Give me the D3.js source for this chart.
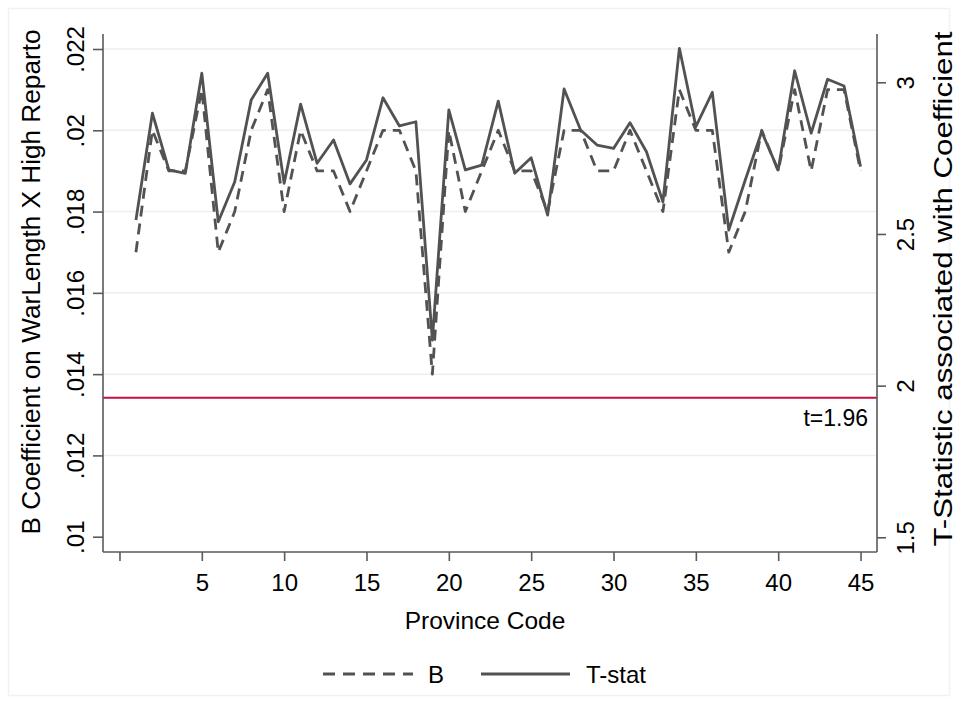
<!DOCTYPE html>
<html><head><meta charset="utf-8">
<script src="https://cdn.jsdelivr.net/npm/d3@7"></script>
<style>
html,body{margin:0;padding:0;background:#fff;}
text{font-family:"Liberation Sans",Arial,sans-serif;fill:#000;}
</style></head>
<body>
<svg id="chart" width="958" height="704"></svg>
<script>
const provinces = d3.range(1, 46);
const bCoef = [0.017,0.020,0.019,0.019,0.021,0.017,0.018,0.020,0.021,0.018,
               0.020,0.019,0.019,0.018,0.019,0.020,0.020,0.019,0.014,0.020,
               0.018,0.019,0.020,0.019,0.019,0.018,0.020,0.020,0.019,0.019,
               0.020,0.019,0.018,0.021,0.020,0.020,0.017,0.018,0.020,0.019,
               0.021,0.019,0.021,0.021,0.019];
const tStat = [2.546,2.898,2.711,2.700,3.030,2.540,2.672,2.942,3.030,2.667,
               2.928,2.733,2.810,2.665,2.744,2.949,2.856,2.870,2.150,2.909,
               2.711,2.727,2.938,2.700,2.751,2.562,2.978,2.843,2.793,2.782,
               2.867,2.771,2.606,3.112,2.854,2.967,2.513,2.678,2.837,2.711,
               3.038,2.832,3.010,2.988,2.722];
const leftTicks = [0.01,0.012,0.014,0.016,0.018,0.02,0.022];
const leftGrid = [0.012,0.014,0.016,0.018,0.02,0.022];
const rightTicks = [1.5,2,2.5,3];
const xTicks = [0,5,10,15,20,25,30,35,40,45];
const tCrit = 1.96;

const svg = d3.select("#chart");
const plotL = 103, plotR = 877, plotT = 34, plotB = 552;

const x = d3.scaleLinear().domain([-1, 46]).range([plotL, plotR]);
const yL = d3.scaleLinear().domain([0.01, 0.022]).range([536.7, 49]);
const yR = d3.scaleLinear().domain([1.5, 3]).range([537.3, 82.3]);

// outer frame
svg.append("rect").attr("x",8.5).attr("y",8.5).attr("width",941).attr("height",687)
  .attr("fill","none").attr("stroke","#eef3f5").attr("stroke-width",1.5);

// grid
svg.append("g").selectAll("line").data(leftGrid).join("line")
  .attr("x1",plotL).attr("x2",plotR)
  .attr("y1",d=>yL(d)).attr("y2",d=>yL(d))
  .attr("stroke","#e9f0f2").attr("stroke-width",1.5);

// red t line
svg.append("line").attr("x1",plotL).attr("x2",plotR)
  .attr("y1",yR(tCrit)).attr("y2",yR(tCrit))
  .attr("stroke","#c4103f").attr("stroke-width",2);
svg.append("text").attr("x",868).attr("y",yR(tCrit)+28)
  .attr("text-anchor","end").attr("font-size",23).text("t=1.96");

// lines
const lineB = d3.line().x((d,i)=>x(provinces[i])).y(d=>yL(d));
const lineT = d3.line().x((d,i)=>x(provinces[i])).y(d=>yR(d));
svg.append("path").attr("d",lineB(bCoef)).attr("fill","none")
  .attr("stroke","#525252").attr("stroke-width",2.8)
  .attr("stroke-dasharray","11,7").attr("stroke-linejoin","round");
svg.append("path").attr("d",lineT(tStat)).attr("fill","none")
  .attr("stroke","#525252").attr("stroke-width",2.8).attr("stroke-linejoin","round");

const fmtL = d => d3.format(".3~f")(d).replace(/^0/,"");

// left axis
const gL = svg.append("g").attr("transform",`translate(${plotL},0)`)
  .call(d3.axisLeft(yL).tickValues(leftTicks).tickSize(10).tickFormat(fmtL));
gL.select(".domain").attr("d",`M0,${plotT}V${plotB}`);
gL.selectAll("text").attr("x",null).attr("dy",null).attr("font-size",24)
  .attr("text-anchor","middle").attr("transform","translate(-19,0) rotate(-90)");

// right axis
const gR = svg.append("g").attr("transform",`translate(${plotR},0)`)
  .call(d3.axisRight(yR).tickValues(rightTicks).tickSize(9).tickFormat(d3.format("~g")));
gR.select(".domain").attr("d",`M0,${plotT}V${plotB}`);
gR.selectAll("text").attr("x",null).attr("dy",null).attr("font-size",24)
  .attr("text-anchor","middle").attr("transform","translate(37,0) rotate(-90)");

// bottom axis
const gB = svg.append("g").attr("transform",`translate(0,${plotB})`)
  .call(d3.axisBottom(x).tickValues(xTicks).tickSize(9).tickFormat(d=>d===0?"":d));
gB.select(".domain").attr("d",`M${plotL},0H${plotR}`);
gB.selectAll("text").attr("y",39).attr("dy",null).attr("font-size",24);

[gL,gR,gB].forEach(g=>{
  g.attr("font-family",null).attr("font-size",null);
  g.selectAll(".domain").attr("stroke","#5a5a5a").attr("stroke-width",1.6);
  g.selectAll(".tick line").attr("stroke","#5a5a5a").attr("stroke-width",1.6);
  g.selectAll("text").attr("fill","#000");
});

// titles
svg.append("text").attr("transform",`translate(40,282) rotate(-90)`)
  .attr("text-anchor","middle").attr("font-size",25)
  .attr("textLength",505).attr("lengthAdjust","spacingAndGlyphs")
  .text("B Coefficient on WarLength X High Reparto");
svg.append("text").attr("transform",`translate(952,289) rotate(-90)`)
  .attr("text-anchor","middle").attr("font-size",25)
  .attr("textLength",515).attr("lengthAdjust","spacingAndGlyphs")
  .text("T-Statistic associated with Coefficient");
svg.append("text").attr("x",485).attr("y",629)
  .attr("text-anchor","middle").attr("font-size",24.5).text("Province Code");

// legend
const leg = svg.append("g");
leg.append("line").attr("x1",323).attr("x2",413).attr("y1",674).attr("y2",674)
  .attr("stroke","#525252").attr("stroke-width",2.8).attr("stroke-dasharray","12,8");
leg.append("text").attr("x",428).attr("y",683).attr("font-size",24).text("B");
leg.append("line").attr("x1",481).attr("x2",570).attr("y1",674).attr("y2",674)
  .attr("stroke","#525252").attr("stroke-width",2.8);
leg.append("text").attr("x",586).attr("y",683).attr("font-size",24).text("T-stat");
</script>
</body></html>
